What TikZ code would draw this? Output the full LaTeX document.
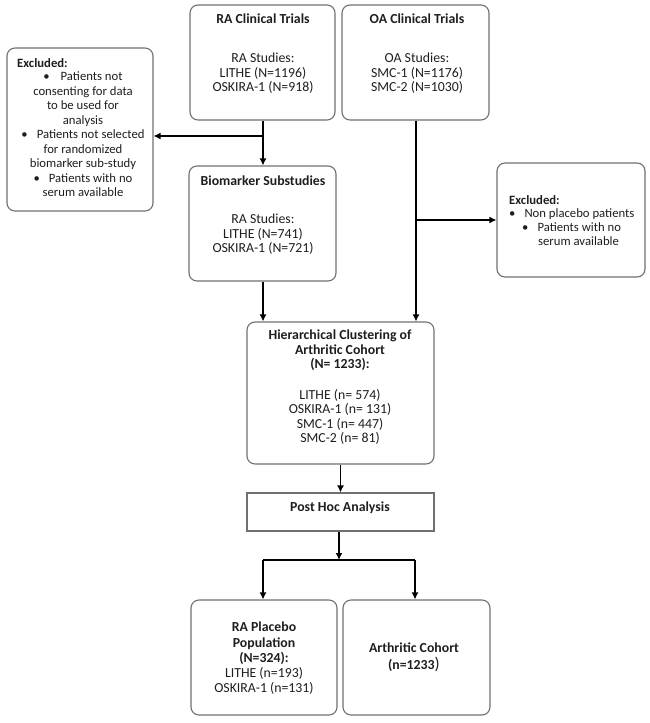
\documentclass[tikz,border=0pt]{standalone}
\usepackage{fontspec}
\setmainfont{Carlito}
\usetikzlibrary{arrows.meta}
\definecolor{ink}{HTML}{1E1E1E}
\definecolor{edge}{HTML}{707070}
\newcommand{\txtfont}{\fontsize{13.8}{14.5}\selectfont}
\newcommand{\exfont}{\fontsize{12.7}{14.45}\selectfont}
\tikzset{
  box/.style={draw=edge, line width=1.1pt, rounded corners=8pt, inner sep=0pt},
  sqbox/.style={draw=edge, line width=1.1pt, inner sep=0pt},
  T/.style={inner sep=0pt, anchor=north, align=center, font=\txtfont, text=ink, execute at begin node=\strut},
  TL/.style={inner sep=0pt, anchor=north west, align=left, font=\txtfont, text=ink, execute at begin node=\strut},
  conn/.style={draw=black, line width=1.4pt},
  arr/.style={conn, -{Latex[length=7pt,width=7pt]}}
}
\begin{document}
\begin{tikzpicture}[x=1pt,y=-1pt]
\useasboundingbox (0,0) rectangle (650,723);
% boxes
\node[box, minimum width=145pt, minimum height=115pt] (ra) at (262.5,62.5) {};
\node[box, minimum width=147pt, minimum height=115pt] (oa) at (415.5,62.5) {};
\node[box, minimum width=146pt, minimum height=163pt] (exl) at (80,129.5) {};
\node[box, minimum width=147pt, minimum height=115pt] (bio) at (262.5,223.5) {};
\node[box, minimum width=148pt, minimum height=114pt] (exr) at (571,220) {};
\node[box, minimum width=187pt, minimum height=142pt] (hier) at (340.5,393) {};
\node[sqbox, minimum width=187pt, minimum height=38pt] (post) at (340.5,512) {};
\node[box, minimum width=146pt, minimum height=115pt] (plac) at (264,657.5) {};
\node[box, minimum width=147pt, minimum height=115pt] (coh) at (416.5,657.5) {};
% texts
\node[T] (raT) at (263,13) {\textbf{RA Clinical Trials}};
\node[T] (raS) at (263,53) {RA Studies:\\LITHE (N=1196)\\OSKIRA-1 (N=918)};
\node[T] (oaT) at (417,13) {\textbf{OA Clinical Trials}};
\node[T] (oaS) at (417,53) {OA Studies:\\SMC-1 (N=1176)\\SMC-2 (N=1030)};
\node[T] (bioT) at (263,175) {\textbf{Biomarker Substudies}};
\node[T] (bioS) at (263,214) {RA Studies:\\LITHE (N=741)\\OSKIRA-1 (N=721)};
\node[TL, font=\exfont] (exlT) at (17,57) {\textbf{Excluded:}};
\node[T, font=\exfont] (exlS) at (83,72) {•\hspace{11pt}Patients not\\consenting for data\\to be used for\\analysis\\•\hspace{9pt}Patients not selected\\for randomized\\biomarker sub-study\\•\hspace{9pt}Patients with no\\serum available};
\node[TL, font=\exfont] (exrT) at (509,194) {\textbf{Excluded:}};
\node[TL, font=\exfont] (exr1) at (509,207) {•\hspace{9pt}Non placebo patients};
\node[TL, font=\exfont] (exr2) at (522,221) {•\hspace{9pt}Patients with no};
\node[TL, font=\exfont] (exr3) at (538,235) {serum available};
\node[T] (hierT) at (340,330) {\textbf{Hierarchical Clustering of}\\\textbf{Arthritic Cohort}\\\textbf{(N= 1233):}};
\node[T] (hierS) at (340,389) {LITHE (n= 574)\\OSKIRA-1 (n= 131)\\SMC-1 (n= 447)\\SMC-2 (n= 81)};
\node[T] (postT) at (340,501) {\textbf{Post Hoc Analysis}};
\node[T, font=\fontsize{13.8}{15.2}\selectfont] (placT) at (264,622) {\textbf{RA Placebo}\\\textbf{Population}\\\textbf{(N=324):}\\LITHE (n=193)\\OSKIRA-1 (n=131)};
\node[T, font=\fontsize{13.8}{17}\selectfont] (cohT) at (414,643) {\textbf{Arthritic Cohort}\\\textbf{(n=1233}{\fontsize{17}{17}\selectfont)}};
% connectors
\coordinate (j1) at (263,136);
\coordinate (j2) at (416,220);
\coordinate (j3) at (339,560);
\coordinate (jl) at (263,560);
\coordinate (jr) at (415,560);
\draw[arr] (ra.south -| j1) -- (bio.north -| j1);
\draw[arr] (j1) -- (exl.east |- j1);
\draw[arr] (oa.south -| j2) -- (hier.north -| j2);
\draw[arr] (j2) -- (exr.west |- j2);
\draw[arr] (bio.south -| j1) -- (hier.north -| j1);
\draw[arr] (hier.south -| post.north) -- (post.north);
\draw[arr] (post.south -| j3) -- (j3);
\draw[conn] (jl) -- (jr);
\draw[arr] (jl) -- (plac.north -| jl);
\draw[arr] (jr) -- (coh.north -| jr);
\end{tikzpicture}
\end{document}
